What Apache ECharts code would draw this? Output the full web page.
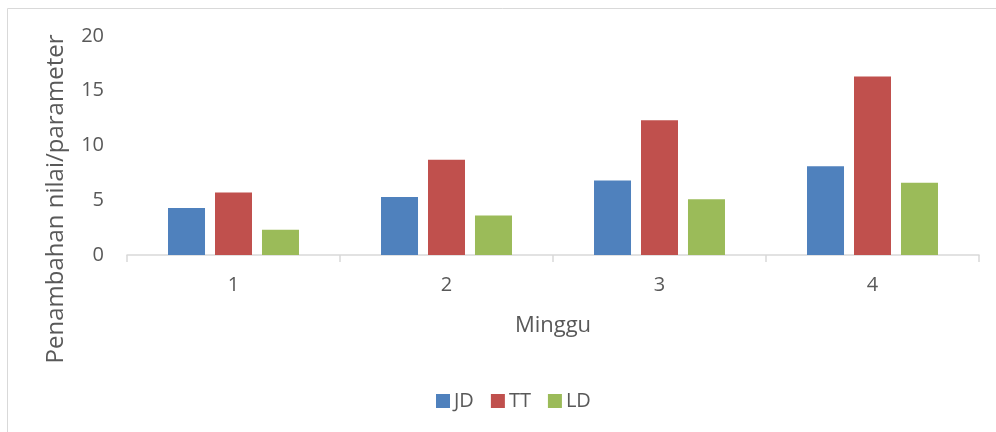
<!DOCTYPE html>
<html>
<head>
<meta charset="utf-8">
<script src="https://cdn.jsdelivr.net/npm/echarts@6/dist/echarts.min.js"></script>
<style>
html,body{margin:0;padding:0;background:#fff;}
#chart{width:996px;height:432px;}
</style>
</head>
<body>
<div id="chart"></div>
<script>
const categories = ['1', '2', '3', '4'];
const seriesNames = ['JD', 'TT', 'LD'];
const valuesJD = [4.3, 5.3, 6.8, 8.1];
const valuesTT = [5.7, 8.7, 12.3, 16.3];
const valuesLD = [2.3, 3.6, 5.1, 6.6];
const colors = ['#4F81BD', '#C0504D', '#9BBB59'];
const yTitle = 'Penambahan nilai/parameter';
const xTitle = 'Minggu';

const FONT = 'Open Sans';
const TXT = '#595959';

const chart = echarts.init(document.getElementById('chart'), null, {renderer: 'canvas'});
const dataSets = [valuesJD, valuesTT, valuesLD];
chart.setOption({
  animation: false,
  color: colors,
  grid: {left: 127, right: 17, top: 36, bottom: 177, containLabel: false},
  graphic: [
    {type: 'rect', shape: {x: 7.5, y: 8.5, width: 1000, height: 440}, style: {fill: 'none', stroke: '#D9D9D9', lineWidth: 1}},
    {type: 'text', x: 56, y: 199, rotation: Math.PI / 2,
     style: {text: yTitle, font: '24px "Open Sans"', fill: TXT, textAlign: 'center', textVerticalAlign: 'middle'}}
  ],
  legend: {
    data: seriesNames,
    top: 386,
    left: 431,
    itemWidth: 14, itemHeight: 14, itemGap: 17,
    icon: 'rect',
    textStyle: {fontFamily: FONT, fontSize: 20, color: TXT, padding: [0, 0, 0, -1]}
  },
  xAxis: {
    type: 'category',
    data: categories,
    name: xTitle,
    nameLocation: 'middle',
    nameGap: 60,
    nameTextStyle: {fontFamily: FONT, fontSize: 22, color: TXT},
    axisLine: {lineStyle: {color: '#D9D9D9', width: 1.5}},
    axisTick: {show: true, length: 7, alignWithLabel: false, lineStyle: {color: '#D9D9D9', width: 1.5}},
    axisLabel: {fontFamily: FONT, fontSize: 20, color: TXT, margin: 20}
  },
  yAxis: {
    type: 'value',
    min: 0, max: 20, interval: 5,
    axisLine: {show: false},
    axisTick: {show: false},
    splitLine: {show: false},
    axisLabel: {fontFamily: FONT, fontSize: 20, color: TXT, margin: 23}
  },
  series: seriesNames.map((n, i) => ({
    name: n,
    type: 'bar',
    data: dataSets[i],
    barWidth: 37,
    barGap: '27%',
    itemStyle: {color: colors[i]}
  }))
});
</script>
</body>
</html>
